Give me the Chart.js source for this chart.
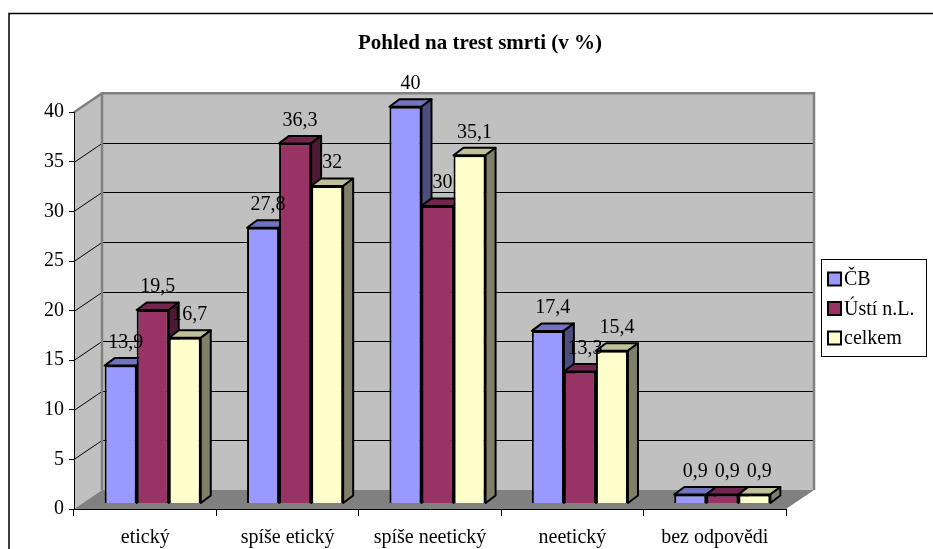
<!DOCTYPE html>
<html>
<head>
<meta charset="utf-8">
<script src="https://cdn.jsdelivr.net/npm/chart.js@4.4.0/dist/chart.umd.min.js"></script>
<style>
html,body{margin:0;padding:0;background:#fff;}
canvas{display:block;}
</style>
</head>
<body>
<canvas id="c" width="933" height="549"></canvas>
<script>
// ---------- data ----------
const categories = ['etický', 'spíše etický', 'spíše neetický', 'neetický', 'bez odpovědi'];
const seriesNames = ['ČB', 'Ústí n.L.', 'celkem'];
const valuesCB = [13.9, 27.8, 40, 17.4, 0.9];
const valuesUsti = [19.5, 36.3, 30, 13.3, 0.9];
const valuesCelkem = [16.7, 32, 35.1, 15.4, 0.9];
const yTicks = [0, 5, 10, 15, 20, 25, 30, 35, 40];
const titleText = 'Pohled na trest smrti (v %)';

// ---------- style ----------
const FONT = "'Liberation Serif', 'Times New Roman', serif";
const frontColors = ['#9999ff', '#993366', '#ffffcc'];
const topColors = ['#7373bf', '#73264d', '#bfbf99'];
const sideColors = ['#4d4d80', '#4d1a33', '#80806a'];
const WALL_DX = 28, WALL_DY = -19;      // depth of the wall box
const BAR_OX = 7.5, BAR_OY = -5.5;      // bar plane offset from the front plane
const BAR_DX = 10, BAR_DY = -7.5;       // bar depth

Chart.defaults.color = '#000';
Chart.defaults.font.family = FONT;
Chart.defaults.font.size = 20;

function poly(ctx, pts, fill, stroke, lw) {
  ctx.beginPath();
  ctx.moveTo(pts[0][0], pts[0][1]);
  for (let i = 1; i < pts.length; i++) ctx.lineTo(pts[i][0], pts[i][1]);
  ctx.closePath();
  if (fill) { ctx.fillStyle = fill; ctx.fill(); }
  if (stroke) { ctx.strokeStyle = stroke; ctx.lineWidth = lw || 1; ctx.stroke(); }
}

const fmt = v => String(v).replace('.', ',');

const threeD = {
  id: 'threeD',
  beforeDraw(chart) {
    const ctx = chart.ctx;
    const xs = chart.scales.x, ys = chart.scales.y;
    const L = xs.left, R = xs.right;
    const y0 = ys.getPixelForValue(0), yTop = ys.getPixelForValue(yTicks[yTicks.length - 1]);
    ctx.save();
    // outer frame
    ctx.strokeStyle = '#000';
    ctx.lineWidth = 1.5;
    ctx.beginPath(); ctx.moveTo(9, 560); ctx.lineTo(9, 13.5); ctx.lineTo(940, 13.5); ctx.stroke();
    // side wall
    poly(ctx, [[L, y0], [L, yTop], [L + WALL_DX, yTop + WALL_DY], [L + WALL_DX, y0 + WALL_DY]], '#c0c0c0');
    // back wall
    poly(ctx, [[L + WALL_DX, yTop + WALL_DY], [R + WALL_DX, yTop + WALL_DY], [R + WALL_DX, y0 + WALL_DY], [L + WALL_DX, y0 + WALL_DY]], '#c0c0c0');
    // floor
    poly(ctx, [[L, y0], [R, y0], [R + WALL_DX, y0 + WALL_DY], [L + WALL_DX, y0 + WALL_DY]], '#808080');
    // gridlines
    ctx.strokeStyle = '#000';
    ctx.lineWidth = 1;
    yTicks.forEach(v => {
      if (v === 0 || v === yTicks[yTicks.length - 1]) return;
      const fy = Math.round(ys.getPixelForValue(v)) + 0.5;
      const by = fy + WALL_DY;
      ctx.beginPath();
      ctx.moveTo(L, fy); ctx.lineTo(L + WALL_DX, by); ctx.lineTo(R + WALL_DX, by);
      ctx.stroke();
    });
    // wall edges
    ctx.strokeStyle = '#808080';
    ctx.lineWidth = 2.5;
    ctx.beginPath();
    ctx.moveTo(L, yTop); ctx.lineTo(L + WALL_DX, yTop + WALL_DY); ctx.lineTo(R + WALL_DX, yTop + WALL_DY);
    ctx.lineTo(R + WALL_DX, y0 + WALL_DY);
    ctx.moveTo(L + WALL_DX, yTop + WALL_DY); ctx.lineTo(L + WALL_DX, y0 + WALL_DY);
    ctx.stroke();
    ctx.restore();
  },
  beforeDatasetsDraw(chart) {
    const ctx = chart.ctx;
    const n = chart.data.datasets.length;
    ctx.save();
    ctx.translate(BAR_OX, BAR_OY);
    ctx.lineJoin = 'round';
    const labels = [];
    for (let i = 0; i < categories.length; i++) {
      for (let d = 0; d < n; d++) {
        const el = chart.getDatasetMeta(d).data[i];
        const p = el.getProps(['x', 'y', 'base', 'width'], true);
        const x1 = p.x - p.width / 2, x2 = p.x + p.width / 2;
        el.draw(ctx);
        poly(ctx, [[x1, p.y], [x2, p.y], [x2 + BAR_DX, p.y + BAR_DY], [x1 + BAR_DX, p.y + BAR_DY]], topColors[d], '#000', 2);
        poly(ctx, [[x2, p.y], [x2 + BAR_DX, p.y + BAR_DY], [x2 + BAR_DX, p.base + BAR_DY], [x2, p.base]], sideColors[d], '#000', 2);
        labels.push([p.x + 5, p.y - 23, fmt(chart.data.datasets[d].data[i])]);
      }
    }
    ctx.fillStyle = '#000';
    ctx.font = '20px ' + FONT;
    ctx.textAlign = 'center';
    ctx.textBaseline = 'middle';
    labels.forEach(l => ctx.fillText(l[2], l[0], l[1]));
    ctx.restore();
    return false;
  },
  afterDraw(chart) {
    // legend
    const ctx = chart.ctx;
    ctx.save();
    ctx.fillStyle = '#fff';
    ctx.fillRect(821, 259, 106, 98);
    ctx.strokeStyle = '#000';
    ctx.lineWidth = 1;
    ctx.strokeRect(821.5, 259.5, 105, 97);
    ctx.font = '20px ' + FONT;
    ctx.textBaseline = 'middle';
    ctx.textAlign = 'left';
    chart.data.datasets.forEach((ds, d) => {
      const cy = 279 + d * 29.5;
      ctx.fillStyle = frontColors[d];
      ctx.fillRect(828, cy - 6.5, 13, 13);
      ctx.strokeStyle = '#000';
      ctx.lineWidth = 2;
      ctx.strokeRect(828, cy - 6.5, 13, 13);
      ctx.fillStyle = '#000';
      ctx.fillText(ds.label, 844, cy + 1);
    });
    ctx.restore();
  }
};

new Chart(document.getElementById('c'), {
  type: 'bar',
  data: {
    labels: categories,
    datasets: [
      { label: seriesNames[0], data: valuesCB, backgroundColor: frontColors[0] },
      { label: seriesNames[1], data: valuesUsti, backgroundColor: frontColors[1] },
      { label: seriesNames[2], data: valuesCelkem, backgroundColor: frontColors[2] }
    ]
  },
  options: {
    responsive: false,
    animation: false,
    events: [],
    layout: { padding: { left: 27, right: 0, top: 0, bottom: 0 } },
    datasets: { bar: { borderColor: '#000', borderWidth: 2, categoryPercentage: 0.675, barPercentage: 1 } },
    plugins: {
      legend: { display: false },
      tooltip: { enabled: false },
      title: {
        display: true,
        text: titleText,
        color: '#000',
        font: { family: FONT, size: 21, weight: 'bold' },
        padding: { top: 31, bottom: 56 }
      }
    },
    scales: {
      x: {
        offset: true,
        grid: { offset: true, drawOnChartArea: false, drawTicks: true, tickLength: 7, color: '#000' },
        border: { display: true, color: '#000', width: 1 },
        ticks: { padding: 10, font: { family: FONT, size: 20 }, color: '#000', maxRotation: 0, autoSkip: false },
        afterFit(s) { s.height = 40; }
      },
      y: {
        min: 0, max: 40,
        grid: { drawOnChartArea: false, drawTicks: true, tickLength: 5, color: '#000' },
        border: { display: true, color: '#000', width: 1 },
        ticks: { stepSize: 5, padding: 5, font: { family: FONT, size: 20 }, color: '#000' },
        afterFit(s) { s.width = 47; }
      },
      legendSpace: {
        type: 'linear',
        position: 'right',
        display: true,
        grid: { display: false, drawTicks: false },
        border: { display: false },
        ticks: { display: false },
        afterFit(s) { s.width = 147; }
      }
    }
  },
  plugins: [threeD]
});
</script>
</body>
</html>
